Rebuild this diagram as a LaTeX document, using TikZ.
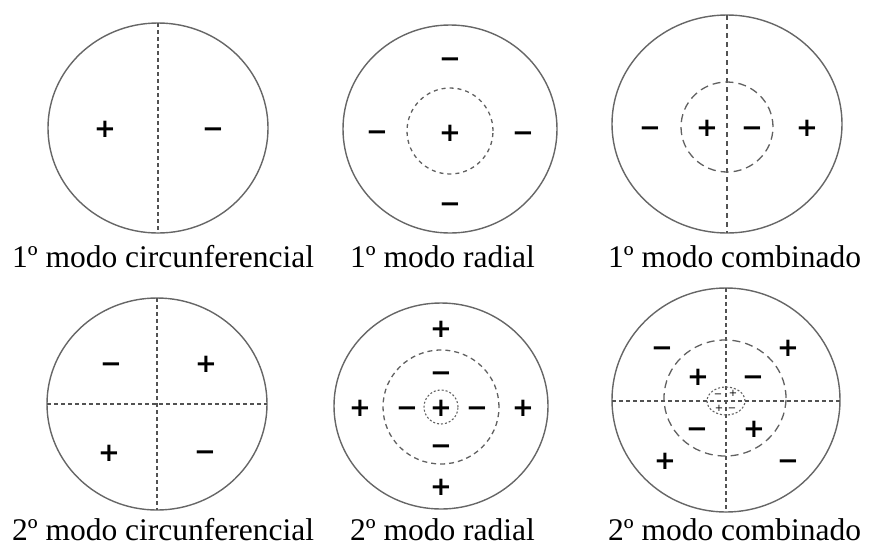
\documentclass[tikz,border=0pt]{standalone}
\usepackage{fontspec}
\setmainfont{Liberation Serif}
\newfontfamily\signfont{DejaVu Sans Bold}
\newfontfamily\tinyfont{DejaVu Sans}
\begin{document}
\begin{tikzpicture}[x=1pt,y=-1pt,
  rim/.style={draw=black!60,line width=1.4pt},
  axis/.style={draw=black!68,line width=1.3pt,dash pattern=on 4pt off 3pt},
  ring/.style={draw=black!62,line width=1.3pt,dash pattern=on 5pt off 4pt},
  longring/.style={draw=black!62,line width=1.3pt,dash pattern=on 8pt off 5pt},
  dotring/.style={draw=black!62,line width=1.1pt,dash pattern=on 2pt off 2pt},
  sgn/.style={font=\signfont\fontsize{26}{26}\selectfont,inner sep=0pt,
    text height=18.6pt,text depth=0pt,anchor=center},
  tiny/.style={font=\tinyfont\fontsize{10}{10}\selectfont,inner sep=0pt,
    text height=7.2pt,text depth=0pt,anchor=center},
  lab/.style={font=\fontsize{31.5}{36}\selectfont,inner sep=0pt,anchor=base west,
    text depth=0pt}]
\useasboundingbox (0,0) rectangle (875,547);
% ---------- top-left: 1 circunferencial
\draw[rim] (158,128) ellipse [x radius=110pt,y radius=105pt];
\coordinate (a1t) at (158,23); \coordinate (a1b) at (158,233);
\draw[axis] (a1t) -- (a1b);
\node[sgn] (a1p) at (105,128) {+};
\node[sgn] (a1m) at (213,128) {−};
% ---------- top-middle: 1 radial
\draw[rim] (450,129) ellipse [x radius=107pt,y radius=104pt];
\draw[ring,dash pattern=on 4pt off 4pt] (450,131) ellipse [x radius=43pt,y radius=43pt];
\node[sgn] (b1c) at (450,132) {+};
\node[sgn] (b1t) at (450,58) {−};
\node[sgn] (b1b) at (450,203) {−};
\node[sgn] (b1l) at (377,131) {−};
\node[sgn] (b1r) at (523,132) {−};
% ---------- top-right: 1 combinado
\draw[rim] (727,124) ellipse [x radius=115pt,y radius=109pt];
\coordinate (c1t) at (727,15); \coordinate (c1b) at (727,233);
\draw[axis,dash pattern=on 5pt off 4pt] (c1t) -- (c1b);
\draw[longring] (727,127) ellipse [x radius=46pt,y radius=45pt];
\node[sgn] (c1a) at (650,127) {−};
\node[sgn] (c1b2) at (707,127) {+};
\node[sgn] (c1c) at (752,127) {−};
\node[sgn] (c1d) at (807,127) {+};
% ---------- bottom-left: 2 circunferencial
\draw[rim] (157,404) ellipse [x radius=110pt,y radius=106pt];
\coordinate (d2t) at (157,298); \coordinate (d2b) at (157,510);
\coordinate (d2l) at (47,404); \coordinate (d2r) at (267,404);
\draw[axis] (d2t) -- (d2b);
\draw[axis] (d2l) -- (d2r);
\node[sgn] (d2a) at (111,363) {−};
\node[sgn] (d2b2) at (206,363) {+};
\node[sgn] (d2c) at (109,452) {+};
\node[sgn] (d2d) at (205,451) {−};
% ---------- bottom-middle: 2 radial
\draw[rim] (441,406) ellipse [x radius=107pt,y radius=103pt];
\draw[ring] (441,407) ellipse [x radius=58pt,y radius=57pt];
\draw[dotring] (441,407) ellipse [x radius=17pt,y radius=17pt];
\node[sgn] (e2c) at (441,407) {+};
\node[sgn] (e2t1) at (441,328) {+};
\node[sgn] (e2t2) at (441,372) {−};
\node[sgn] (e2b2) at (441,445) {−};
\node[sgn] (e2b1) at (441,486) {+};
\node[sgn] (e2l1) at (360,407) {+};
\node[sgn] (e2l2) at (407,407) {−};
\node[sgn] (e2r2) at (477,407) {−};
\node[sgn] (e2r1) at (523,407) {+};
% ---------- bottom-right: 2 combinado
\draw[rim] (726,400) ellipse [x radius=114pt,y radius=112pt];
\coordinate (f2t) at (726,288); \coordinate (f2b) at (726,512);
\coordinate (f2l) at (612,401); \coordinate (f2r) at (840,401);
\draw[axis] (f2t) -- (f2b);
\draw[axis] (f2l) -- (f2r);
\draw[longring] (725,398) ellipse [x radius=61pt,y radius=58pt];
\draw[dotring] (726,401) ellipse [x radius=19pt,y radius=14pt];
\node[tiny] (f2s1) at (718,394) {−};
\node[tiny] (f2s2) at (733,393) {+};
\node[tiny] (f2s3) at (719,408) {+};
\node[tiny] (f2s4) at (732,408) {−};
\node[sgn] (f2a) at (662,347) {−};
\node[sgn] (f2b2) at (788,347) {+};
\node[sgn] (f2c) at (698,376) {+};
\node[sgn] (f2d) at (753,376) {−};
\node[sgn] (f2e) at (697,428) {−};
\node[sgn] (f2f) at (754,428) {+};
\node[sgn] (f2g) at (665,460) {+};
\node[sgn] (f2h) at (788,460) {−};
% ---------- labels
\node[lab] (l1) at (12,267) {1º modo circunferencial};
\node[lab] (l2) at (350,267) {1º modo radial};
\node[lab] (l3) at (608,267) {1º modo combinado};
\node[lab] (l4) at (12,540) {2º modo circunferencial};
\node[lab] (l5) at (350,540) {2º modo radial};
\node[lab] (l6) at (608,540) {2º modo combinado};
\end{tikzpicture}
\end{document}
